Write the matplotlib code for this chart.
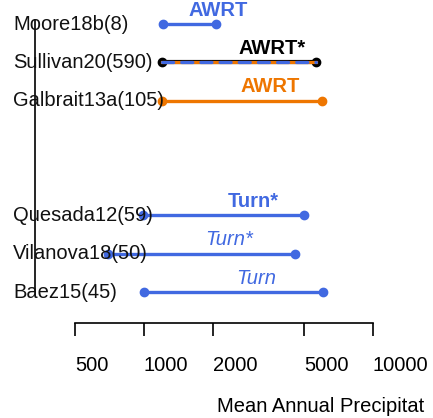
import math
import matplotlib
matplotlib.use("Agg")
import matplotlib.pyplot as plt
import matplotlib.transforms as mtransforms

plt.rcParams['font.family'] = ['Liberation Sans', 'DejaVu Sans']

studies = ["Moore18b(8)", "Sullivan20(590)", "Galbrait13a(105)", "", "",
           "Quesada12(59)", "Vilanova18(50)", "Baez15(45)"]
lows = [1211, 1200, 1200, None, None, 991, 697, 1000]
highs = [2065, 5640, 5995, None, None, 5000, 4570, 6050]
tags = ["AWRT", "AWRT*", "AWRT", "", "", "Turn*", "Turn*", "Turn"]
tag_x = [2106, 3625, 3553, None, None, 2994, 2352, 3085]
tag_styles = ["normal", "normal", "normal", None, None, "normal", "italic", "italic"]
tag_weights = ["bold", "bold", "bold", None, None, "bold", "normal", "normal"]
tag_colors = ["#4169E1", "black", "#EE7600", None, None, "#4169E1", "#4169E1", "#4169E1"]
line_kind = ["blue", "mixed", "orange", None, None, "blue", "blue", "blue"]

xticks = [500, 1000, 2000, 5000, 10000]
xlabel = "Mean Annual Precipitat"

BLUE = "#4169E1"
ORANGE = "#EE7600"
FS = 14.5

W, H = 433, 418
fig = plt.figure(figsize=(W / 100, H / 100), dpi=100)
ax_left, ax_right, ax_top, ax_bot = 35, 433, 0, 323
ax = fig.add_axes([ax_left / W, 1 - ax_bot / H, (ax_right - ax_left) / W, (ax_bot - ax_top) / H])
ax.set_xscale('log')
ppd = 229.0
l500 = math.log10(500)
ax.set_xlim(10 ** (l500 - (75 - ax_left) / ppd), 10 ** (l500 + (ax_right - 75) / ppd))
row_px = (292 - 24) / 7
ax.set_ylim((ax_bot - 24) / row_px, (ax_top - 24) / row_px)

for i, name in enumerate(studies):
    if lows[i] is None:
        continue
    xs = [lows[i], highs[i]]
    ys = [i, i]
    if line_kind[i] == "mixed":
        ax.plot(xs, ys, color="black", lw=3.0, marker='o', ms=6, zorder=2)
        ax.plot(xs, ys, color=ORANGE, lw=2.3, zorder=3)
        ax.plot(xs, ys, color=BLUE, lw=2.3, ls=(0, (3.5, 2.5)),
                dash_capstyle='round', zorder=4)
    else:
        c = BLUE if line_kind[i] == "blue" else ORANGE
        ax.plot(xs, ys, color=c, lw=2.4, marker='o', ms=6, zorder=3)
    ax.text(tag_x[i], i - 0.36, tags[i], ha='center', va='center', fontsize=FS,
            color=tag_colors[i], fontstyle=tag_styles[i], fontweight=tag_weights[i])

trans = mtransforms.blended_transform_factory(ax.transAxes, ax.transData)
for i, name in enumerate(studies):
    if name:
        ax.text((13 - ax_left) / (ax_right - ax_left), i, name, transform=trans,
                ha='left', va='center', fontsize=FS, color='#111111', clip_on=False)

for s in ['top', 'right']:
    ax.spines[s].set_visible(False)
ax.spines['bottom'].set_bounds(500, 10000)
ax.spines['left'].set_bounds((20 - 24) / row_px, (290 - 24) / row_px)
ax.spines['left'].set_linewidth(1.2)
ax.spines['bottom'].set_linewidth(1.2)
ax.set_yticks([])
ax.set_xticks(xticks)
ax.set_xticklabels([str(t) for t in xticks], ha='left')
ax.xaxis.set_minor_locator(matplotlib.ticker.NullLocator())
ax.tick_params(axis='x', length=9.5, width=1.2, pad=14, labelsize=FS)
ax.patch.set_visible(False)

fig.text(217 / W, 1 - 407 / H, xlabel, ha='left', va='center', fontsize=FS)

fig.savefig("out.png", dpi=100)
